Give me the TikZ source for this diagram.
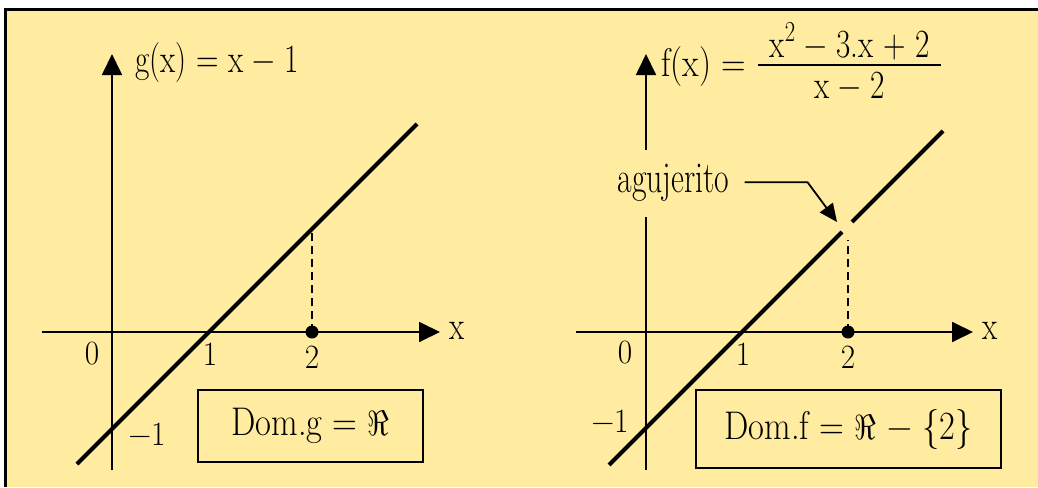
\documentclass[tikz,border=0pt]{standalone}
\usepackage{graphicx}
\usetikzlibrary{arrows.meta}
\definecolor{paper}{RGB}{255,236,160}
\newcommand{\sq}[1]{\scalebox{0.78}[1]{#1}}
\newcommand{\sqd}[1]{\scalebox{0.86}[1]{#1}}
\newcommand{\sqt}[1]{\scalebox{0.92}[1]{#1}}
\newcommand{\bigRe}{\scalebox{3.5}{\fontsize{10}{12}\selectfont$\Re$}}
\newcommand{\sqr}{\raisebox{0.42em}{\fontsize{29}{30}\selectfont 2}}
\tikzset{
  axis/.style={line width=1.8pt, -{Triangle[length=21pt,width=20pt]}},
  plainaxis/.style={line width=1.8pt},
  curve/.style={line width=4pt},
  guide/.style={line width=1.8pt, dash pattern=on 8pt off 5pt},
  lbl/.style={font=\fontsize{40}{44}\selectfont, inner sep=0pt},
  agu/.style={font=\fontsize{44}{48}\selectfont, inner sep=0pt},
  tick/.style={font=\fontsize{34}{36}\selectfont, inner sep=0pt},
  dombox/.style={draw, line width=1.8pt, font=\fontsize{40}{44}\selectfont, inner sep=0pt},
  pointer/.style={line width=1.8pt, -{Triangle[length=18pt,width=16pt]}},
}
\begin{document}
\begin{tikzpicture}[x=1pt,y=-1pt]
\useasboundingbox (0,0) rectangle (1038,487);
\fill[paper] (5,9) rectangle (1038,487);
\draw[line width=2.6pt] (5.5,487) -- (5.5,9.5) -- (1038,9.5);

% ---------- left graph ----------
\coordinate (gyb) at (112,470);
\coordinate (gyt) at (112,54);
\coordinate (gxl) at (42,332);
\coordinate (gxr) at (440,332);
\draw[axis] (gyb) -- (gyt);
\draw[axis] (gxl) -- (gxr);
\coordinate (ga) at (77,464);
\coordinate (gb) at (417,124);
\draw[curve] (ga) -- (gb);
\coordinate (gtwo) at (312,332);
\coordinate (gtwotop) at (312,229);
\draw[guide] (gtwo) -- (gtwotop);
\fill (gtwo) circle (6.5);

\node[lbl, anchor=base west] (gtitle) at (135,73) {\sq{g(x) = x − 1}};
\node[lbl] (gxlab) at (457,331) {\sq{x}};
\node[tick] (gzero) at (92,354) {\sqt{0}};
\node[tick] (gone) at (210,354) {\sqt{1}};
\node[tick] (gtwolab) at (312,357) {\sqt{2}};
\node[tick] (gmone) at (147,434) {\sqt{−1}};
\node[dombox, minimum width=225pt, minimum height=72pt] (gdom) at (310.5,426) {\sqd{Dom.g = \bigRe}};

% ---------- right graph ----------
\coordinate (fyb) at (646,470);
\coordinate (fym) at (646,217);
\coordinate (fyu) at (646,150);
\coordinate (fyt) at (646,54);
\draw[plainaxis] (fyb) -- (fym);
\draw[axis] (fyu) -- (fyt);
\coordinate (fxl) at (576,332);
\coordinate (fxr) at (973,332);
\draw[axis] (fxl) -- (fxr);
\coordinate (fa) at (609,465);
\coordinate (fb) at (842,232);
\coordinate (fc) at (852,222);
\coordinate (fd) at (943,131);
\draw[curve] (fa) -- (fb);
\draw[curve] (fc) -- (fd);
\coordinate (ftwo) at (848,332);
\coordinate (ftwotop) at (848,240);
\draw[guide] (ftwo) -- (ftwotop);
\fill (ftwo) circle (6.5);

\node[lbl, anchor=base west] (fx) at (661,76) {\scalebox{0.85}[1]{f(x) =}};
\node[lbl, anchor=base] (fnum) at (849.5,58) {\sq{x\sqr{} − 3.x + 2}};
\node[lbl, anchor=base] (fden) at (849.5,98) {\sq{x − 2}};
\coordinate (barl) at (758,65);
\coordinate (barr) at (941,65);
\draw[line width=1.6pt] (barl) -- (barr);

\node[lbl] (fxlab) at (990,331) {\sq{x}};
\node[tick] (fzero) at (625,353) {\sqt{0}};
\node[tick] (fone) at (743,354) {\sqt{1}};
\node[tick] (ftwolab) at (848,357) {\sqt{2}};
\node[tick] (fmone) at (610,421) {\sqt{−1}};
\node[dombox, minimum width=305pt, minimum height=78pt] (fdom) at (848.5,429) {\sqd{Dom.f = \bigRe{} − \{2\}}};

\node[agu, anchor=base] (agu) at (673.5,192) {\scalebox{0.72}[1]{agujerito}};
\coordinate (hole) at (837,222);
\draw[pointer] ([xshift=15pt]agu.east) -- ++(63,0) -- (hole);
\end{tikzpicture}
\end{document}
